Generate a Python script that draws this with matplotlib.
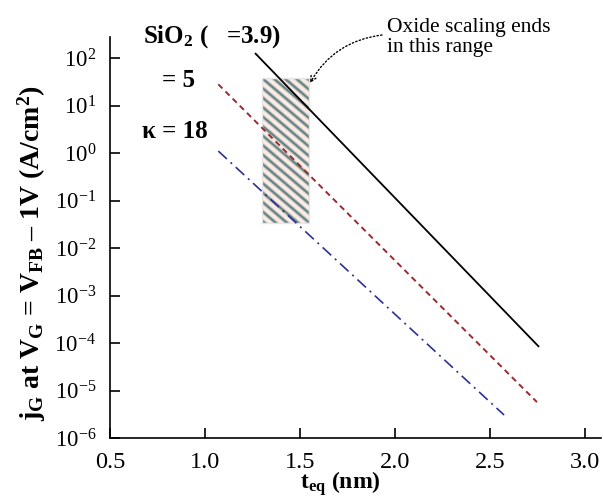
import matplotlib
matplotlib.use("Agg")
import matplotlib.pyplot as plt
import numpy as np
from matplotlib.colors import LinearSegmentedColormap
from matplotlib.ticker import FixedLocator, FuncFormatter, NullLocator

# gate leakage lines (t_eq in nm, j_G in A/cm^2)
t_sio2 = [1.263, 2.758]
j_sio2 = [129.0, 8.3e-5]
t_k5 = [1.07, 2.747]
j_k5 = [28.3, 5.7e-6]
t_k18 = [1.07, 2.574]
j_k18 = [1.11, 3.05e-6]

# shaded range where oxide scaling ends
range_t = [1.30, 1.547]
range_j = [0.034, 38.0]

x_ticks = [0.5, 1.0, 1.5, 2.0, 2.5, 3.0]
y_exponents = [-6, -5, -4, -3, -2, -1, 0, 1, 2]

plt.rcParams["font.family"] = ["Liberation Serif", "DejaVu Serif"]
plt.rcParams["mathtext.fontset"] = "custom"
plt.rcParams["mathtext.rm"] = "Liberation Serif"
plt.rcParams["mathtext.it"] = "Liberation Serif:italic"
plt.rcParams["mathtext.bf"] = "Liberation Serif:bold"

W, H = 603, 499


def px(x, y):
    # pixel position (from top-left) -> figure fraction
    return x / W, 1 - y / H


fig = plt.figure(figsize=(W / 100, H / 100), dpi=100)
ax = fig.add_axes([110 / W, 61 / H, (601 - 110) / W, (438 - 36.7) / H])

ax.set_yscale("log")
ax.set_xlim(0.5, 3.084)
ax.set_ylim(1e-6, 10 ** 2.455)

ax.plot(t_sio2, j_sio2, color="black", lw=1.3, solid_capstyle="butt", zorder=3)
ax.plot(t_k5, j_k5, color="#9a2a2e", lw=1.4, dashes=(3, 2.2), zorder=3)
ax.plot(t_k18, j_k18, color="#2e3192", lw=1.2, dashes=(7, 3, 1.2, 3), zorder=3)

# striped box, drawn in its own little axes so the stripes stay even on the log scale
box = ax.inset_axes([range_t[0], range_j[0], range_t[1] - range_t[0], range_j[1] - range_j[0]],
                    transform=ax.transData)
box.set_zorder(1)
rows, cols = 145, 47
rr, cc = np.mgrid[0:rows, 0:cols]
stripes = 0.5 + 0.5 * np.cos(2 * np.pi * (0.85 * cc - rr) / 9.5)
cmap = LinearSegmentedColormap.from_list("stripe", ["#fcf0ea", "#e9d6cf", "#5f8486"])
box.imshow(stripes, cmap=cmap, aspect="auto", interpolation="bilinear")
box.set_xticks([])
box.set_yticks([])
for s in box.spines.values():
    s.set_color("#e6e6e6")
    s.set_linewidth(1.0)

for side in ["top", "right"]:
    ax.spines[side].set_visible(False)
for side in ["left", "bottom"]:
    ax.spines[side].set_linewidth(1.2)

ax.xaxis.set_major_locator(FixedLocator(x_ticks))
ax.xaxis.set_major_formatter(FuncFormatter(lambda v, _: f"{v:.1f}"))
ax.yaxis.set_major_locator(FixedLocator([10.0 ** e for e in y_exponents]))
ax.yaxis.set_minor_locator(NullLocator())
ax.yaxis.set_major_formatter(FuncFormatter(lambda v, _: f"$10^{{{int(round(np.log10(v)))}}}$"))
ax.tick_params(axis="both", direction="in", length=7.5, width=1.2)
ax.tick_params(axis="x", labelsize=17.5, pad=10)
ax.tick_params(axis="y", labelsize=16.5, pad=10)

fig.text(340 / W, 1.0 / H, r"t$_\mathbf{eq}$ (nm)", fontsize=17, fontweight="bold",
         ha="center", va="bottom")
fig.text(*px(32, 253), r"j$_\mathbf{G}$ at V$_\mathbf{G}$ = V$_\mathbf{FB}$ – 1V (A/cm$^\mathbf{2}$)",
         fontsize=20, fontweight="bold", rotation=90, ha="center", va="center")

fig.text(*px(143, 43), r"SiO$_\mathbf{2}$ (   =3.9)", fontsize=18, fontweight="bold", va="baseline")
fig.text(*px(162, 87), "= 5", fontsize=18, fontweight="bold", va="baseline")
fig.text(*px(142, 138), "κ = 18", fontsize=18, fontweight="bold", va="baseline")

fig.text(*px(387, 32), "Oxide scaling ends", fontsize=15.5, va="baseline")
fig.text(*px(387, 52), "in this range", fontsize=15.5, va="baseline")

ax.annotate("", xy=(310, H - 83), xycoords="figure pixels",
            xytext=(382, H - 35), textcoords="figure pixels",
            arrowprops=dict(arrowstyle="->", linestyle=":", lw=1.0, color="black",
                            connectionstyle="arc3,rad=0.25", shrinkA=0, shrinkB=0))

fig.savefig("out.png", dpi=100)
